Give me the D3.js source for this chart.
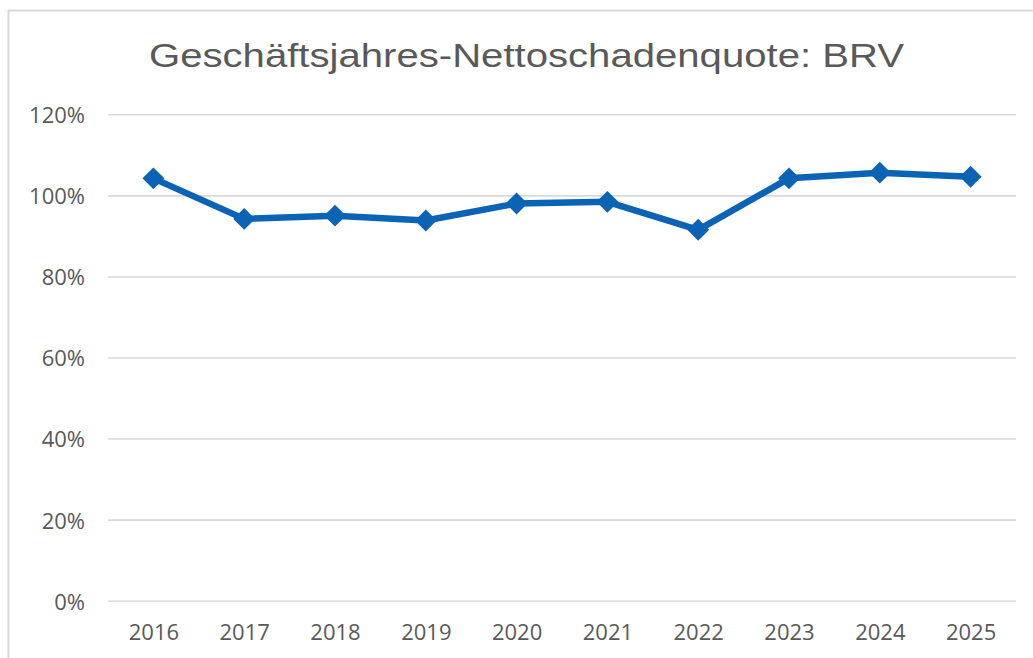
<!DOCTYPE html>
<html>
<head>
<meta charset="utf-8">
<script src="https://cdn.jsdelivr.net/npm/d3@7"></script>
<style>
	body { margin: 0; background: #fff; overflow: hidden; }
	svg { display: block; }
</style>
</head>
<body>
<svg id="chart"></svg>
<script>
// Geschäftsjahres-Nettoschadenquote, in percent
years = ["2016", "2017", "2018", "2019", "2020", "2021", "2022", "2023", "2024", "2025"];
quote = [104.2, 94.2, 95.0, 93.8, 98.0, 98.4, 91.5, 104.2, 105.6, 104.6];
y_ticks = [0, 20, 40, 60, 80, 100, 120];
title_text = "Geschäftsjahres-Nettoschadenquote: BRV";

settings = {
	width: 1033,
	height: 658,
	left: 108,
	right: 1016,
	top: 114.3,
	bottom: 600.7,
	blue: "#0B63B5",
	grey: "#595959",
	grid: "#d9d9d9"
}

svg = d3.select("#chart")
	.attr("width", settings.width)
	.attr("height", settings.height)

// chart area border (cut off right and bottom in the original)
svg.append("rect")
	.attr("x", 8.5).attr("y", 10.5)
	.attr("width", 1100).attr("height", 800)
	.attr("fill", "#fff")
	.attr("stroke", "#d9d9d9")
	.attr("stroke-width", 2)

var x = d3.scalePoint().domain(years).range([settings.left, settings.right]).padding(0.5);
var y = d3.scaleLinear().domain([0, 120]).range([settings.bottom, settings.top]);

// gridlines + y labels
var yAxis = svg.append("g")
	.attr("transform", "translate(" + settings.left + ",0)")
	.call(d3.axisLeft(y).tickValues(y_ticks).tickFormat(d => d + "%")
		.tickSize(-(settings.right - settings.left)).tickPadding(23))
yAxis.select(".domain").remove()
yAxis.selectAll("line").attr("stroke", settings.grid).attr("stroke-width", 1.6)
yAxis.selectAll("text")
	.attr("fill", settings.grey)
	.style("font-family", "'Open Sans', sans-serif")
	.style("font-size", "22px")
	.attr("dy", "0.38em")

// x labels
var xAxis = svg.append("g")
	.attr("transform", "translate(0," + settings.bottom + ")")
	.call(d3.axisBottom(x).tickSize(0).tickPadding(24))
xAxis.select(".domain").remove()
xAxis.selectAll("text")
	.attr("fill", settings.grey)
	.style("font-family", "'Open Sans', sans-serif")
	.style("font-size", "22px")

// line
var line = d3.line().x((d, i) => x(years[i])).y(d => y(d));
svg.append("path")
	.datum(quote)
	.attr("fill", "none")
	.attr("stroke", settings.blue)
	.attr("stroke-width", 6.5)
	.attr("stroke-linejoin", "round")
	.attr("d", line)

// diamond markers
var diamond = d3.symbol().type(d3.symbolSquare).size(240);
svg.selectAll(".marker")
	.data(quote)
	.enter().append("path")
	.attr("class", "marker")
	.attr("d", diamond)
	.attr("fill", settings.blue)
	.attr("transform", (d, i) => "translate(" + x(years[i]) + "," + y(d) + ") rotate(45)")

// title (original is slightly stretched horizontally)
svg.append("text")
	.attr("transform", "translate(526.5,67) scale(1.18,1)")
	.attr("text-anchor", "middle")
	.attr("fill", settings.grey)
	.style("font-family", "'Liberation Sans', Arial, sans-serif")
	.style("font-size", "34px")
	.text(title_text)
</script>
</body>
</html>
